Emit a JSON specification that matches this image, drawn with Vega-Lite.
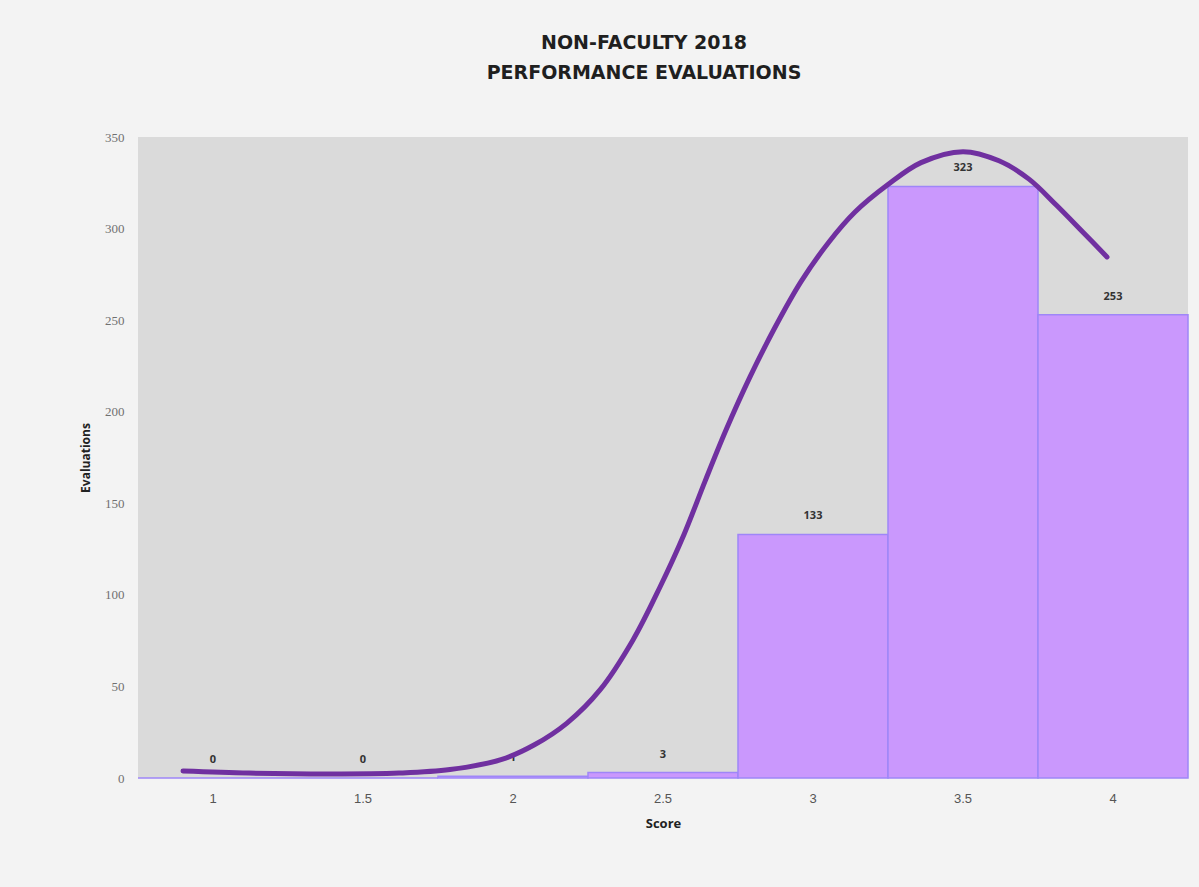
{
  "$schema": "https://vega.github.io/schema/vega-lite/v6.json",
  "autosize": {"type": "none"},
  "width": 1050,
  "height": 641,
  "padding": {"left": 138, "top": 137, "right": 11, "bottom": 109},
  "background": "#f3f3f3",
  "title": {
    "text": ["NON-FACULTY 2018", "PERFORMANCE EVALUATIONS"],
    "fontSize": 19,
    "font": "DejaVu Sans",
    "fontWeight": "bold",
    "color": "#1f1f1f",
    "lineHeight": 30,
    "anchor": "middle",
    "dx": -19,
    "offset": 48
  },
  "config": {
    "view": {"fill": "#dadada", "stroke": null},
    "axis": {"domain": false, "ticks": false, "grid": false}
  },
  "datasets": {
    "bars": [
      {"score": "1", "evaluations": 0},
      {"score": "1.5", "evaluations": 0},
      {"score": "2", "evaluations": 1},
      {"score": "2.5", "evaluations": 3},
      {"score": "3", "evaluations": 133},
      {"score": "3.5", "evaluations": 323},
      {"score": "4", "evaluations": 253}
    ],
    "curve": [
      {"s": 0.90, "v": 3.8},
      {"s": 1.12, "v": 2.7},
      {"s": 1.39, "v": 2.2},
      {"s": 1.62, "v": 2.7},
      {"s": 1.79, "v": 4.6},
      {"s": 1.96, "v": 10.0},
      {"s": 2.07, "v": 18.0},
      {"s": 2.18, "v": 30.0},
      {"s": 2.29, "v": 48.1},
      {"s": 2.40, "v": 75.4},
      {"s": 2.49, "v": 104.3},
      {"s": 2.57, "v": 133.0},
      {"s": 2.64, "v": 162.0},
      {"s": 2.71, "v": 190.0},
      {"s": 2.79, "v": 219.0},
      {"s": 2.87, "v": 245.0},
      {"s": 2.96, "v": 271.0},
      {"s": 3.05, "v": 292.0},
      {"s": 3.14, "v": 309.0},
      {"s": 3.25, "v": 324.0},
      {"s": 3.36, "v": 336.0},
      {"s": 3.50, "v": 342.0},
      {"s": 3.62, "v": 337.0},
      {"s": 3.72, "v": 327.0},
      {"s": 3.81, "v": 313.0},
      {"s": 3.90, "v": 298.0},
      {"s": 3.98, "v": 284.5}
    ]
  },
  "layer": [
    {
      "data": {"name": "bars"},
      "encoding": {
        "x": {
          "field": "score", "type": "ordinal", "sort": null,
          "scale": {"paddingInner": 0, "paddingOuter": 0},
          "axis": {
            "title": "Score", "labelAngle": 0, "labelPadding": 14,
            "labelFont": "Liberation Sans", "labelFontSize": 13, "labelColor": "#555",
            "titleFont": "Open Sans", "titleFontSize": 13, "titleFontWeight": "bold",
            "titleColor": "#222", "titlePadding": 12
          }
        },
        "y": {
          "field": "evaluations", "type": "quantitative",
          "scale": {"domain": [0, 350]},
          "axis": {
            "title": "Evaluations", "values": [0, 50, 100, 150, 200, 250, 300, 350],
            "labelOverlap": false, "labelFlush": false,
            "labelPadding": 14, "labelFont": "Liberation Serif", "labelFontSize": 13, "labelColor": "#707070",
            "titleFont": "Open Sans", "titleFontSize": 12, "titleFontWeight": "bold",
            "titleColor": "#222", "titlePadding": 12
          }
        }
      },
      "layer": [
        {
          "mark": {"type": "bar", "color": "#ca98fd", "stroke": "#9f86f8", "strokeWidth": 1.5}
        },
        {
          "mark": {"type": "text", "baseline": "bottom", "dy": -13, "font": "Open Sans", "fontSize": 11, "fontWeight": "bold", "color": "#333"},
          "encoding": {
            "text": {"field": "evaluations", "type": "quantitative"}
          }
        }
      ]
    },
    {
      "data": {"name": "curve"},
      "mark": {"type": "line", "color": "#7030a0", "strokeWidth": 5, "interpolate": "catmull-rom", "strokeCap": "round"},
      "encoding": {
        "x": {"field": "s", "type": "quantitative", "scale": {"domain": [0.75, 4.25], "nice": false, "zero": false}, "axis": null},
        "y": {"field": "v", "type": "quantitative"}
      }
    }
  ],
  "resolve": {"scale": {"x": "independent"}}
}
